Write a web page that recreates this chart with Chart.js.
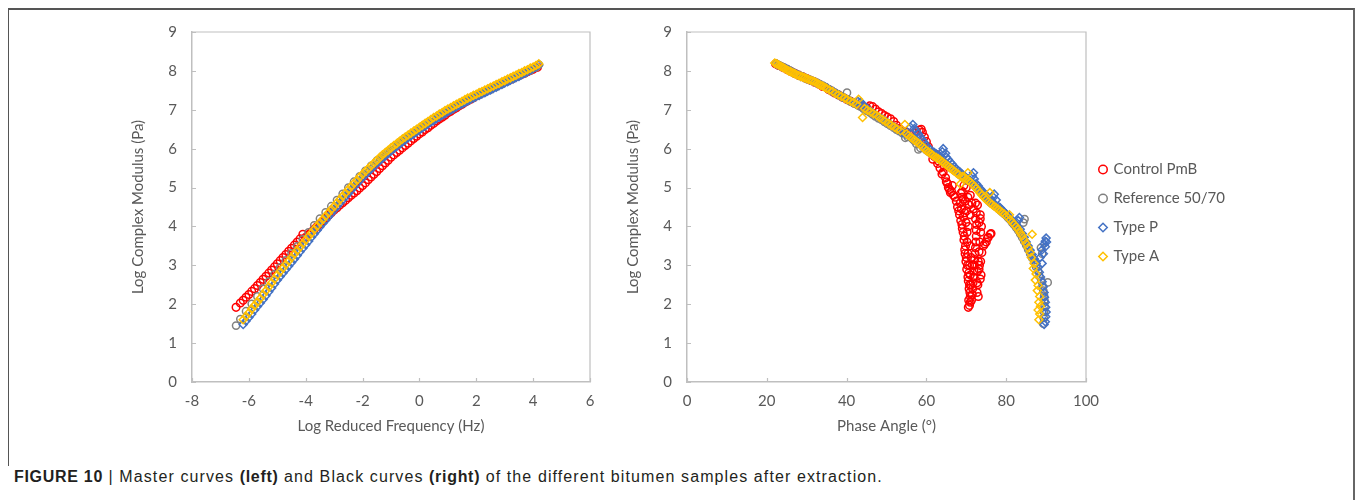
<!DOCTYPE html>
<html>
<head>
<meta charset="utf-8">
<script src="https://cdn.jsdelivr.net/npm/chart.js@4.4.0/dist/chart.umd.min.js"></script>
<style>
  body { margin: 0; background: #fff; width: 1357px; height: 500px; overflow: hidden; position: relative; }
  .frame { position: absolute; left: 8px; top: 8px; width: 1345px; height: 500px; border-top: 2px solid #555; border-right: 2px solid #666; }
  .frame-left { position: absolute; left: 8px; top: 8px; width: 0; height: 458px; border-left: 1.5px solid #555; }
  .panel { position: absolute; top: 0; }
  .caption { position: absolute; left: 14px; top: 468px; font-family: "Liberation Sans", Arial, sans-serif; font-size: 16px; letter-spacing: 1.1px; color: #231f20; white-space: nowrap; }
  .caption b { font-weight: bold; letter-spacing: 0.7px; }
</style>
</head>
<body>
<div class="frame"></div>
<div class="frame-left"></div>
<div class="panel" style="left:100px"><canvas id="master" width="520" height="445"></canvas></div>
<div class="panel" style="left:595px"><canvas id="black" width="660" height="445"></canvas></div>
<div class="caption"><b>FIGURE 10</b> | Master curves <b>(left)</b> and Black curves <b>(right)</b> of the different bitumen samples after extraction.</div>

<script>
// ==================================================
// DATA
// ==================================================
const seriesNames = ["Control PmB", "Reference 50/70", "Type P", "Type A"];

// master curves: log reduced frequency (Hz) vs log complex modulus (Pa)
const masterPmbX = [-6.45, -6.3, -6.2, -6.1, -6.0, -5.9, -5.8, -5.7, -5.6, -5.5, -5.4, -5.3, -5.2, -5.1, -5.0, -4.9, -4.8, -4.7, -4.6, -4.5, -4.4, -4.3, -4.2, -4.1,
  -4.0, -3.9, -3.8, -3.7, -3.6, -3.5, -3.4, -3.3, -3.2, -3.1, -3.0, -2.9, -2.8, -2.7, -2.6, -2.5, -2.4, -2.3, -2.2, -2.1, -2.0,
  -1.9, -1.8, -1.7, -1.6, -1.5, -1.4, -1.3, -1.2, -1.1, -1.0, -0.9, -0.8, -0.7, -0.6, -0.5, -0.4, -0.3, -0.2, -0.1, 0.0,
  0.1, 0.2, 0.3, 0.4, 0.5, 0.6, 0.7, 0.8, 0.9, 1.0, 1.1, 1.2, 1.3, 1.4, 1.5, 1.6, 1.7, 1.8, 1.9, 2.0,
  2.1, 2.2, 2.3, 2.4, 2.5, 2.6, 2.7, 2.8, 2.9, 3.0, 3.1, 3.2, 3.3, 3.4, 3.5, 3.6, 3.7, 3.8, 3.9, 4.0, 4.15];
const masterPmbY = [1.92, 2.03, 2.10, 2.18, 2.25, 2.33, 2.40, 2.48, 2.56, 2.64, 2.72, 2.80, 2.88, 2.96, 3.04, 3.12, 3.20, 3.28, 3.36, 3.44, 3.52, 3.60, 3.68, 3.80,
  3.72, 3.79, 3.86, 3.93, 4.00, 4.07, 4.14, 4.21, 4.28, 4.35, 4.42, 4.48, 4.55, 4.61, 4.67, 4.74, 4.80, 4.86, 4.92, 4.99, 5.05,
  5.12, 5.20, 5.27, 5.34, 5.41, 5.49, 5.56, 5.63, 5.70, 5.78, 5.84, 5.90, 5.96, 6.02, 6.08, 6.14, 6.20, 6.26, 6.32, 6.38,
  6.43, 6.49, 6.54, 6.60, 6.65, 6.71, 6.76, 6.81, 6.86, 6.92, 6.96, 7.01, 7.05, 7.10, 7.14, 7.19, 7.23, 7.27, 7.31, 7.36,
  7.39, 7.43, 7.46, 7.50, 7.54, 7.58, 7.61, 7.65, 7.68, 7.72, 7.75, 7.78, 7.81, 7.85, 7.88, 7.91, 7.94, 7.98, 8.01, 8.04, 8.09];

const masterRefX = [-6.45, -6.3, -6.1, -5.9, -5.7, -5.5, -5.3, -5.1, -4.9, -4.7, -4.5, -4.3, -4.1, -3.9, -3.7, -3.5, -3.3, -3.1, -2.9, -2.7, -2.5, -2.3, -2.1,
  -1.9, -1.7, -1.5, -1.3, -1.1, -0.9, -0.7, -0.5, -0.3, -0.1, 0.1, 0.3, 0.5, 0.7, 0.9, 1.1, 1.3, 1.5, 1.7, 1.9, 2.1, 2.3, 2.5,
  2.7, 2.9, 3.1, 3.3, 3.5, 3.7, 3.9, 4.1, 4.2];
const masterRefY = [1.45, 1.62, 1.82, 2.01, 2.20, 2.40, 2.58, 2.77, 2.95, 3.13, 3.31, 3.49, 3.67, 3.85, 4.03, 4.20, 4.36, 4.52, 4.68, 4.84, 5.00, 5.15, 5.29,
  5.43, 5.56, 5.69, 5.81, 5.93, 6.05, 6.16, 6.27, 6.37, 6.47, 6.57, 6.67, 6.76, 6.85, 6.93, 7.01, 7.09, 7.17, 7.24, 7.31, 7.38, 7.45, 7.52,
  7.59, 7.66, 7.73, 7.80, 7.87, 7.94, 8.01, 8.09, 8.16];

const masterTypePX = [-6.2, -6.1, -6.0, -5.9, -5.8, -5.7, -5.6, -5.5, -5.4, -5.3, -5.2, -5.1, -5.0, -4.9, -4.8, -4.7, -4.6, -4.5, -4.4, -4.3, -4.2, -4.1,
  -4.0, -3.9, -3.8, -3.7, -3.6, -3.5, -3.4, -3.3, -3.2, -3.1, -3.0, -2.9, -2.8, -2.7, -2.6, -2.5, -2.4, -2.3, -2.2, -2.1,
  -2.0, -1.9, -1.8, -1.7, -1.6, -1.5, -1.4, -1.3, -1.2, -1.1, -1.0, -0.9, -0.8, -0.7, -0.6, -0.5, -0.4, -0.3, -0.2, -0.1,
  0.0, 0.1, 0.2, 0.3, 0.4, 0.5, 0.6, 0.7, 0.8, 0.9, 1.0, 1.1, 1.2, 1.3, 1.4, 1.5, 1.6, 1.7, 1.8, 1.9,
  2.0, 2.1, 2.2, 2.3, 2.4, 2.5, 2.6, 2.7, 2.8, 2.9, 3.0, 3.1, 3.2, 3.3, 3.4, 3.5, 3.6, 3.7, 3.8, 3.9, 4.0, 4.1, 4.2];
const masterTypePY = [1.48, 1.57, 1.66, 1.75, 1.85, 1.94, 2.03, 2.12, 2.22, 2.32, 2.42, 2.52, 2.62, 2.71, 2.80, 2.89, 2.98, 3.07, 3.16, 3.25, 3.35, 3.44,
  3.53, 3.62, 3.72, 3.81, 3.90, 3.99, 4.08, 4.16, 4.25, 4.34, 4.43, 4.51, 4.60, 4.68, 4.77, 4.85, 4.94, 5.02, 5.10, 5.18,
  5.26, 5.33, 5.41, 5.48, 5.55, 5.62, 5.69, 5.75, 5.82, 5.88, 5.94, 6.00, 6.06, 6.11, 6.17, 6.22, 6.28, 6.33, 6.38, 6.43,
  6.48, 6.53, 6.58, 6.63, 6.68, 6.72, 6.77, 6.81, 6.86, 6.90, 6.95, 6.99, 7.03, 7.07, 7.11, 7.15, 7.19, 7.23, 7.27, 7.30,
  7.34, 7.37, 7.41, 7.44, 7.48, 7.51, 7.55, 7.58, 7.62, 7.65, 7.69, 7.72, 7.76, 7.79, 7.83, 7.86, 7.90, 7.94, 7.98, 8.02, 8.06, 8.10, 8.15];

const masterTypeAX = [-6.2, -6.1, -6.0, -5.9, -5.8, -5.7, -5.6, -5.5, -5.4, -5.3, -5.2, -5.1, -5.0, -4.9, -4.8, -4.7, -4.6, -4.5, -4.4, -4.3, -4.2, -4.1,
  -4.0, -3.9, -3.8, -3.7, -3.6, -3.5, -3.4, -3.3, -3.2, -3.1, -3.0, -2.9, -2.8, -2.7, -2.6, -2.5, -2.4, -2.3, -2.2, -2.1,
  -2.0, -1.9, -1.8, -1.7, -1.6, -1.5, -1.4, -1.3, -1.2, -1.1, -1.0, -0.9, -0.8, -0.7, -0.6, -0.5, -0.4, -0.3, -0.2, -0.1,
  0.0, 0.1, 0.2, 0.3, 0.4, 0.5, 0.6, 0.7, 0.8, 0.9, 1.0, 1.1, 1.2, 1.3, 1.4, 1.5, 1.6, 1.7, 1.8, 1.9,
  2.0, 2.1, 2.2, 2.3, 2.4, 2.5, 2.6, 2.7, 2.8, 2.9, 3.0, 3.1, 3.2, 3.3, 3.4, 3.5, 3.6, 3.7, 3.8, 3.9, 4.0, 4.1, 4.2];
const masterTypeAY = [1.60, 1.69, 1.78, 1.88, 1.97, 2.06, 2.15, 2.25, 2.35, 2.45, 2.55, 2.65, 2.75, 2.84, 2.93, 3.02, 3.11, 3.20, 3.29, 3.38, 3.47, 3.56,
  3.65, 3.74, 3.83, 3.92, 4.01, 4.10, 4.18, 4.27, 4.35, 4.44, 4.52, 4.61, 4.69, 4.78, 4.86, 4.95, 5.03, 5.11, 5.19, 5.27,
  5.35, 5.42, 5.49, 5.56, 5.63, 5.70, 5.77, 5.84, 5.90, 5.96, 6.02, 6.08, 6.13, 6.19, 6.25, 6.30, 6.35, 6.40, 6.45, 6.50,
  6.55, 6.60, 6.65, 6.70, 6.75, 6.80, 6.84, 6.89, 6.93, 6.98, 7.02, 7.06, 7.10, 7.14, 7.18, 7.22, 7.26, 7.30, 7.33, 7.37,
  7.40, 7.44, 7.47, 7.51, 7.54, 7.58, 7.61, 7.65, 7.68, 7.72, 7.75, 7.79, 7.82, 7.86, 7.89, 7.93, 7.96, 8.00, 8.03, 8.07, 8.10, 8.14, 8.18];

// black curves: phase angle (deg) vs log complex modulus (Pa)
const blackPmbX = [22.2, 24.0, 26.0, 28.0, 30.0, 32.0, 34.0, 35.5, 37.0, 39.0, 41.0, 43.0, 45.0, 46.5, 48.0, 49.5, 51.0, 52.5, 54.0, 56.0,
  57.5, 58.7, 59.5, 60.5, 61.6, 62.5, 63.0, 63.9, 64.5, 65.0, 65.5, 66.0, 66.5, 67.2, 68.1, 68.5, 68.9, 69.3, 69.5, 69.8,
  70.0, 70.3, 70.6, 70.8, 71.0, 70.8, 70.5, 71.3, 71.6, 71.8, 72.0, 72.2, 72.4, 72.5, 72.3, 72.3, 71.8, 73.5, 73.9, 73.5,
  72.7, 72.9, 73.2, 73.6, 74.3, 75.0, 76.0, 75.5, 73.8, 71.0, 70.0, 69.0, 70.5, 71.0, 71.5, 69.2, 69.6, 68.6, 70.2, 71.2,
  62.0, 62.8, 63.4, 64.2, 64.8, 65.3, 65.8, 66.3, 66.8, 67.5, 67.8, 68.3, 68.6, 68.8, 69.0, 69.2, 69.4, 69.6, 69.7, 69.9,
  70.1, 70.4, 70.5, 70.7, 70.9, 71.0, 70.6, 69.9, 70.1, 70.2, 70.4, 70.8, 71.0, 71.2, 71.5, 71.7, 71.9, 72.1, 72.3, 72.5,
  72.6, 72.5, 71.4, 71.0, 70.7, 70.4, 69.7, 68.9, 69.4, 72.7, 72.8, 73.0, 73.2, 73.4, 73.6, 73.2, 73.3, 73.7, 73.0, 74.6,
  75.3, 76.2, 73.5, 72.8, 23.0, 25.0, 27.0, 29.0, 31.0, 33.0, 36.2, 38.0, 40.0, 42.0, 44.0, 45.8, 47.2, 48.8, 50.2, 51.8,
  53.2, 55.0, 57.0, 58.2, 59.0, 60.0, 61.0];
const blackPmbY = [8.18, 8.09, 7.99, 7.89, 7.80, 7.71, 7.60, 7.52, 7.43, 7.32, 7.22, 7.12, 7.06, 7.08, 6.95, 6.85, 6.77, 6.60, 6.45, 6.38,
  6.45, 6.50, 6.30, 6.05, 5.73, 5.85, 5.68, 5.35, 5.55, 5.15, 5.00, 4.87, 5.05, 4.75, 4.40, 4.60, 4.05, 4.25, 3.75, 3.50,
  3.20, 3.00, 2.80, 2.50, 2.20, 1.97, 1.92, 2.10, 2.40, 2.70, 3.00, 3.30, 3.60, 3.90, 4.20, 4.60, 4.45, 4.20, 3.33, 2.65,
  2.30, 2.50, 2.90, 3.10, 3.50, 3.60, 3.80, 3.72, 4.00, 4.80, 5.00, 4.90, 4.00, 3.50, 3.00, 4.70, 4.35, 4.85, 3.85, 3.20,
  5.80, 5.62, 5.50, 5.40, 5.25, 5.10, 4.95, 4.90, 4.80, 4.65, 4.50, 4.30, 4.15, 4.45, 3.95, 3.85, 3.65, 3.40, 3.30, 3.10,
  2.90, 2.70, 2.60, 2.40, 2.30, 2.05, 2.10, 4.10, 4.40, 3.60, 3.30, 3.00, 2.75, 2.50, 2.25, 2.55, 2.85, 3.15, 3.45, 3.75,
  4.05, 4.35, 4.60, 4.30, 4.55, 4.75, 4.65, 4.75, 5.05, 2.55, 2.85, 3.10, 3.35, 3.60, 3.85, 4.10, 3.00, 2.75, 2.20, 3.55,
  3.70, 3.82, 4.30, 4.55, 8.14, 8.04, 7.94, 7.85, 7.76, 7.66, 7.48, 7.38, 7.27, 7.17, 7.09, 7.10, 7.02, 6.90, 6.81, 6.70,
  6.52, 6.42, 6.40, 6.48, 6.42, 6.18, 5.90];

const blackRefX = [22.3, 23.5, 25.0, 26.5, 28.0, 29.5, 31.0, 32.5, 34.0, 35.5, 37.0, 38.5, 40.1, 40.5, 42.0, 43.5, 45.0, 46.5, 48.0, 49.5,
  51.0, 52.5, 54.0, 54.7, 56.0, 57.0, 58.0, 59.0, 60.0, 61.0, 62.0, 63.0, 64.0, 65.0, 66.0, 67.0, 68.0, 69.0, 70.0, 71.0,
  72.0, 73.0, 74.0, 75.0, 76.0, 77.0, 78.0, 79.0, 80.0, 81.0, 82.0, 83.0, 84.6, 84.0, 85.0, 86.0, 87.0, 88.0, 88.7, 88.8,
  89.3, 89.6, 89.5, 89.3, 90.4, 23.0, 24.2, 25.8, 27.2, 28.8, 30.2, 31.8, 33.2, 34.8, 36.2, 37.8, 39.2, 41.2, 42.8, 44.2,
  45.8, 47.2, 48.8, 50.2, 51.8, 53.2, 55.3, 56.5, 57.5, 58.5, 59.5, 60.5, 61.5, 62.5, 63.5, 64.5, 65.5, 66.5, 67.5, 68.5,
  69.5, 70.5, 71.5, 72.5, 73.5, 74.5, 75.5, 76.5, 77.5, 78.5, 79.5, 80.5, 81.5, 82.5, 83.5, 84.3, 84.5, 85.5, 86.5, 87.5,
  88.3, 89.0, 89.1, 89.5, 89.6, 89.4];
const blackRefY = [8.19, 8.12, 8.05, 7.97, 7.89, 7.82, 7.76, 7.70, 7.62, 7.53, 7.44, 7.35, 7.44, 7.24, 7.16, 7.08, 6.98, 6.88, 6.78, 6.69,
  6.59, 6.49, 6.40, 6.28, 6.30, 6.20, 5.98, 6.06, 5.96, 5.89, 5.82, 5.75, 5.68, 5.60, 5.52, 5.44, 5.36, 5.29, 5.22, 5.15,
  5.06, 4.95, 4.83, 4.72, 4.62, 4.54, 4.46, 4.37, 4.28, 4.17, 4.04, 3.90, 4.19, 3.72, 3.52, 3.30, 3.08, 2.85, 3.45, 2.60,
  2.35, 2.10, 1.80, 1.50, 2.56, 8.15, 8.09, 8.01, 7.93, 7.86, 7.79, 7.73, 7.66, 7.58, 7.49, 7.40, 7.31, 7.20, 7.12, 7.03,
  6.93, 6.83, 6.74, 6.64, 6.54, 6.45, 6.30, 6.25, 6.12, 6.02, 6.01, 5.93, 5.85, 5.78, 5.71, 5.64, 5.56, 5.48, 5.40, 5.32,
  5.25, 5.18, 5.11, 5.00, 4.89, 4.78, 4.67, 4.58, 4.50, 4.41, 4.32, 4.22, 4.10, 3.97, 3.81, 4.10, 3.62, 3.41, 3.19, 2.96,
  2.72, 3.30, 2.48, 2.22, 1.95, 1.65];

const blackTypePX = [22.5, 24.0, 25.5, 27.0, 28.5, 30.0, 31.5, 33.0, 34.5, 36.0, 37.5, 39.0, 40.5, 42.0, 43.5, 45.0, 46.5, 48.0, 49.5, 51.0,
  52.5, 54.0, 55.5, 56.6, 57.5, 58.5, 59.5, 60.5, 61.5, 62.5, 63.5, 64.2, 65.0, 66.0, 67.0, 68.0, 69.0, 70.0, 71.0, 71.8,
  72.5, 73.5, 74.5, 75.5, 76.5, 77.0, 78.0, 79.0, 80.0, 81.0, 82.0, 83.3, 83.5, 84.5, 85.5, 86.5, 87.5, 88.3, 89.0, 89.5,
  89.8, 90.0, 89.8, 89.5, 88.5, 89.0, 89.5, 90.0, 89.8, 56.0, 57.0, 58.0, 59.0, 60.0, 61.0, 62.0, 63.0, 64.0, 64.8,
  65.5, 66.5, 67.5, 68.5, 69.5, 70.5, 71.5, 72.0, 73.0, 74.0, 75.0, 76.0, 76.8, 77.5, 78.5, 79.5, 80.5, 81.5, 82.5, 83.0,
  84.0, 85.0, 86.0, 87.0, 88.0, 88.6, 89.3, 89.6, 89.9, 89.9, 89.0, 89.3, 89.8, 90.1, 23.2, 24.8, 26.2, 27.8, 29.2, 30.8,
  32.2, 33.8, 35.2, 36.8, 38.2, 39.8, 41.2, 42.8, 44.2, 45.8, 47.2, 48.8, 50.2, 51.8, 53.2, 54.8];
const blackTypePY = [8.17, 8.10, 8.02, 7.94, 7.86, 7.80, 7.74, 7.67, 7.59, 7.50, 7.41, 7.33, 7.25, 7.18, 7.20, 7.05, 6.92, 6.82, 6.72, 6.62,
  6.52, 6.42, 6.33, 6.62, 6.45, 6.30, 6.15, 6.02, 5.93, 5.86, 5.80, 6.00, 5.78, 5.65, 5.53, 5.43, 5.34, 5.25, 5.18, 5.38,
  5.10, 4.97, 4.85, 4.74, 4.64, 4.83, 4.52, 4.42, 4.32, 4.21, 4.08, 4.23, 3.93, 3.72, 3.50, 3.28, 3.05, 2.82, 2.58, 2.30,
  2.05, 1.80, 1.55, 1.48, 3.20, 3.40, 3.55, 3.70, 3.62, 6.55, 6.52, 6.38, 6.22, 6.08, 5.97, 5.90, 5.83, 5.92, 5.88,
  5.72, 5.60, 5.48, 5.39, 5.30, 5.22, 5.30, 5.22, 5.04, 4.91, 4.80, 4.70, 4.75, 4.68, 4.48, 4.37, 4.27, 4.15, 4.05, 4.15,
  3.82, 3.60, 3.39, 3.17, 2.95, 2.70, 2.45, 2.18, 1.92, 1.68, 3.05, 3.30, 3.48, 3.60, 8.14, 8.06, 7.98, 7.90, 7.83, 7.77,
  7.70, 7.63, 7.55, 7.46, 7.37, 7.29, 7.21, 7.22, 7.12, 6.98, 6.87, 6.77, 6.67, 6.57, 6.47, 6.38];

const blackTypeAX = [22.0, 23.0, 24.0, 25.0, 26.0, 27.0, 28.0, 29.0, 30.0, 31.0, 32.0, 33.0, 34.0, 35.0, 36.5, 38.0, 39.5, 41.0, 42.5, 43.0,
  44.0, 44.5, 46.0, 47.5, 49.0, 50.5, 52.0, 53.5, 54.6, 55.0, 56.0, 57.0, 58.0, 59.0, 60.0, 61.0, 62.0, 63.0, 64.0, 65.0,
  66.0, 67.0, 68.0, 68.5, 69.0, 70.0, 70.4, 71.0, 72.0, 73.0, 74.0, 75.0, 75.9, 76.0, 77.0, 78.0, 79.0, 80.0, 80.8, 81.0,
  82.0, 83.0, 84.0, 85.0, 86.0, 86.5, 87.0, 87.5, 88.0, 88.4, 88.6, 88.4, 88.2, 22.5, 23.5, 24.5, 25.5, 26.5, 27.5, 28.5,
  29.5, 30.5, 31.5, 32.5, 33.5, 34.5, 35.7, 37.2, 38.7, 40.2, 41.7, 45.2, 46.7, 48.2, 49.7, 51.2, 52.7, 55.5, 56.5, 57.5,
  58.5, 59.5, 60.5, 61.5, 62.5, 63.5, 64.5, 65.5, 66.5, 67.5, 69.5, 70.5, 71.5, 72.5, 73.5, 74.5, 76.5, 77.5, 78.5, 79.5,
  81.5, 82.5, 83.5, 84.5, 85.5, 86.3, 86.8, 87.3, 87.8, 88.2, 88.0];
const blackTypeAY = [8.20, 8.15, 8.09, 8.03, 7.98, 7.93, 7.88, 7.84, 7.80, 7.76, 7.72, 7.66, 7.61, 7.55, 7.47, 7.38, 7.30, 7.22, 7.14, 7.27,
  6.80, 7.03, 6.95, 6.86, 6.75, 6.65, 6.55, 6.46, 6.62, 6.38, 6.30, 6.22, 6.14, 6.05, 5.95, 5.88, 5.80, 5.74, 5.66, 5.58,
  5.50, 5.42, 5.34, 5.09, 5.28, 5.22, 5.38, 5.14, 5.04, 4.92, 4.80, 4.69, 4.87, 4.60, 4.52, 4.44, 4.36, 4.27, 4.30, 4.17,
  4.05, 3.92, 3.76, 3.56, 3.33, 3.80, 3.05, 2.78, 2.48, 2.20, 1.95, 1.75, 1.60, 8.18, 8.12, 8.06, 8.00, 7.95, 7.90, 7.86,
  7.82, 7.78, 7.74, 7.69, 7.63, 7.58, 7.51, 7.42, 7.34, 7.26, 7.18, 6.99, 6.90, 6.80, 6.70, 6.60, 6.50, 6.34, 6.26, 6.18,
  6.10, 6.00, 5.92, 5.84, 5.77, 5.70, 5.62, 5.54, 5.46, 5.38, 5.25, 5.18, 5.09, 4.98, 4.86, 4.74, 4.56, 4.48, 4.40, 4.32,
  4.11, 3.99, 3.84, 3.66, 3.45, 3.20, 2.92, 2.62, 2.35, 2.05, 1.85];

const yTicks = [0, 1, 2, 3, 4, 5, 6, 7, 8, 9];
const masterXTicks = [-8, -6, -4, -2, 0, 2, 4, 6];
const blackXTicks = [0, 20, 40, 60, 80, 100];

// ==================================================
// STYLE HELPERS
// ==================================================
const colors = ["#ff0000", "#808080", "#4472c4", "#ffc000"];
const shapes = ["circle", "circle", "rectRot", "rectRot"];
const sizes = [3.8, 3.6, 4.0, 4.0];
const textColor = "#595959";
const axisColor = "#bfbfbf";
const fontFamily = "Lato, 'Open Sans', sans-serif";

function toPoints(xs, ys) {
  return xs.map((x, i) => ({ x: x, y: ys[i] }));
}

function makeDatasets(pairs) {
  return pairs.map((p, i) => ({
    label: seriesNames[i],
    data: toPoints(p[0], p[1]),
    pointStyle: shapes[i],
    pointRadius: sizes[i],
    borderColor: colors[i],
    backgroundColor: "rgba(255,255,255,0)",
    borderWidth: 1.5,
    order: 3 - i,
  }));
}

// plot area border (top/right) and inside tick marks, like Excel
const plotFrame = {
  id: "plotFrame",
  afterDraw(chart) {
    const { ctx, chartArea: a, scales } = chart;
    ctx.save();
    ctx.strokeStyle = axisColor;
    ctx.lineWidth = 1.2;
    ctx.beginPath();
    ctx.moveTo(a.left, a.top);
    ctx.lineTo(a.right, a.top);
    ctx.lineTo(a.right, a.bottom);
    scales.x.ticks.forEach((t) => {
      const px = Math.round(scales.x.getPixelForValue(t.value)) + 0.5;
      ctx.moveTo(px, a.bottom);
      ctx.lineTo(px, a.bottom - 4);
    });
    scales.y.ticks.forEach((t) => {
      const py = Math.round(scales.y.getPixelForValue(t.value)) + 0.5;
      ctx.moveTo(a.left, py);
      ctx.lineTo(a.left + 4, py);
    });
    ctx.stroke();
    ctx.restore();
  },
};

function makeOptions(xTicks, xTitle, withLegend) {
  return {
    responsive: false,
    animation: false,
    layout: { padding: { top: 32, right: withLegend ? 20 : 30, left: 0, bottom: 0 } },
    plugins: {
      tooltip: { enabled: false },
      legend: {
        display: withLegend,
        position: "right",
        align: "center",
        fullSize: false,
        title: { display: true, text: " ", font: { size: 10 }, padding: 0 },
        labels: {
          usePointStyle: true,
          boxWidth: 6,
          boxHeight: 6,
          padding: 14,
          color: textColor,
          font: { family: fontFamily, size: 15 },
          sort: (a, b) => a.datasetIndex - b.datasetIndex,
        },
      },
    },
    scales: {
      x: {
        type: "linear",
        min: xTicks[0],
        max: xTicks[xTicks.length - 1],
        afterBuildTicks: (scale) => {
          scale.ticks = xTicks.map((v) => ({ value: v }));
        },
        afterFit: (scale) => {
          scale.height = 63;
        },
        grid: { display: false, drawTicks: false },
        border: { color: axisColor, width: 1.5 },
        ticks: { padding: 10, color: textColor, font: { family: fontFamily, size: 15 } },
        title: {
          display: true,
          text: xTitle,
          color: textColor,
          font: { family: fontFamily, size: 15 },
          padding: { top: 0, bottom: 10 },
        },
      },
      y: {
        type: "linear",
        min: 0,
        max: 9,
        afterBuildTicks: (scale) => {
          scale.ticks = yTicks.map((v) => ({ value: v }));
        },
        afterFit: (scale) => {
          scale.width = 92;
        },
        grid: { display: false, drawTicks: false },
        border: { color: axisColor, width: 1.5 },
        ticks: { padding: 15, color: textColor, font: { family: fontFamily, size: 15 } },
        title: {
          display: true,
          text: "Log Complex Modulus (Pa)",
          color: textColor,
          font: { family: fontFamily, size: 15 },
          padding: { top: 29, bottom: 0 },
        },
      },
    },
  };
}

// ==================================================
// CHARTS
// ==================================================
new Chart(document.getElementById("master"), {
  type: "scatter",
  data: {
    datasets: makeDatasets([
      [masterPmbX, masterPmbY],
      [masterRefX, masterRefY],
      [masterTypePX, masterTypePY],
      [masterTypeAX, masterTypeAY],
    ]),
  },
  options: makeOptions(masterXTicks, "Log Reduced Frequency (Hz)", false),
  plugins: [plotFrame],
});

new Chart(document.getElementById("black"), {
  type: "scatter",
  data: {
    datasets: makeDatasets([
      [blackPmbX, blackPmbY],
      [blackRefX, blackRefY],
      [blackTypePX, blackTypePY],
      [blackTypeAX, blackTypeAY],
    ]),
  },
  options: makeOptions(blackXTicks, "Phase Angle (°)", true),
  plugins: [plotFrame],
});
</script>
</body>
</html>
